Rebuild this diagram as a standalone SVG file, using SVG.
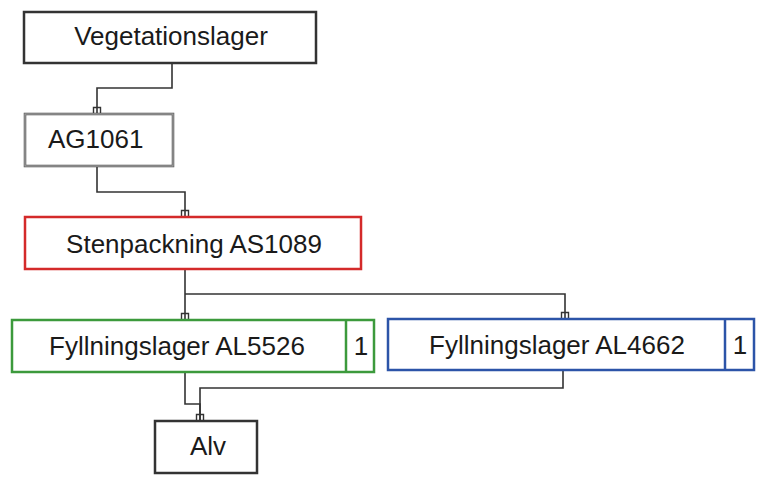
<svg xmlns="http://www.w3.org/2000/svg" width="763" height="477" viewBox="0 0 763 477">
<style>
  .box{fill:#fff;stroke-width:2.5}
  .lbl{font-family:"Liberation Sans",Arial,sans-serif;font-size:26px;fill:#1a1a1a;text-anchor:middle}
  .con{fill:none;stroke:#333;stroke-width:1.6}
</style>
<defs>
  <marker id="port" viewBox="0 0 10 8" refX="5" refY="8" markerWidth="10" markerHeight="8" markerUnits="userSpaceOnUse" orient="0">
    <path d="M1.5,8 V1.5 H8.5 V8" fill="none" stroke="#333" stroke-width="1.4"/>
  </marker>
</defs>
<rect width="763" height="477" fill="#fff"/>
<g id="connectors">
  <path class="con" d="M172,63 V88 H97 V114" marker-end="url(#port)"/>
  <path class="con" d="M97,166 V192 H185 V217" marker-end="url(#port)"/>
  <path class="con" d="M185,269 V320" marker-end="url(#port)"/>
  <path class="con" d="M185,294 H565 V319" marker-end="url(#port)"/>
  <path class="con" d="M185,372 V404 H200 V421" marker-end="url(#port)"/>
  <path class="con" d="M563,370 V388 H200 V421"/>
</g>
<g id="vegetationslager">
  <rect class="box" x="24" y="12" width="292" height="51" stroke="#333"/>
  <text class="lbl" x="171" y="45">Vegetationslager</text>
</g>
<g id="ag1061">
  <rect class="box" x="25" y="114" width="148" height="52" stroke="#444" stroke-width="4.5"/>
  <rect x="25" y="114" width="148" height="52" fill="none" stroke="#9a9a9a" stroke-width="1.5"/>
  <text class="lbl" x="48" y="148" style="text-anchor:start">AG1061</text>
</g>
<g id="stenpackning">
  <rect class="box" x="25" y="217" width="336" height="52" stroke="#d42a2a"/>
  <text class="lbl" x="194" y="253">Stenpackning AS1089</text>
</g>
<g id="fyllning-al5526">
  <rect class="box" x="12" y="320" width="362" height="52" stroke="#3c9a3c"/>
  <line x1="346" y1="320" x2="346" y2="372" stroke="#3c9a3c" stroke-width="2.5"/>
  <text class="lbl" x="177" y="355">Fyllningslager AL5526</text>
  <text class="lbl" x="361" y="355">1</text>
</g>
<g id="fyllning-al4662">
  <rect class="box" x="388" y="319" width="366" height="51" stroke="#2c54a8"/>
  <line x1="725" y1="319" x2="725" y2="370" stroke="#2c54a8" stroke-width="2.5"/>
  <text class="lbl" x="557" y="354">Fyllningslager AL4662</text>
  <text class="lbl" x="740" y="354">1</text>
</g>
<g id="alv">
  <rect class="box" x="155" y="421" width="102" height="52" stroke="#333" stroke-width="2"/>
  <text class="lbl" x="208" y="455">Alv</text>
</g>
</svg>
